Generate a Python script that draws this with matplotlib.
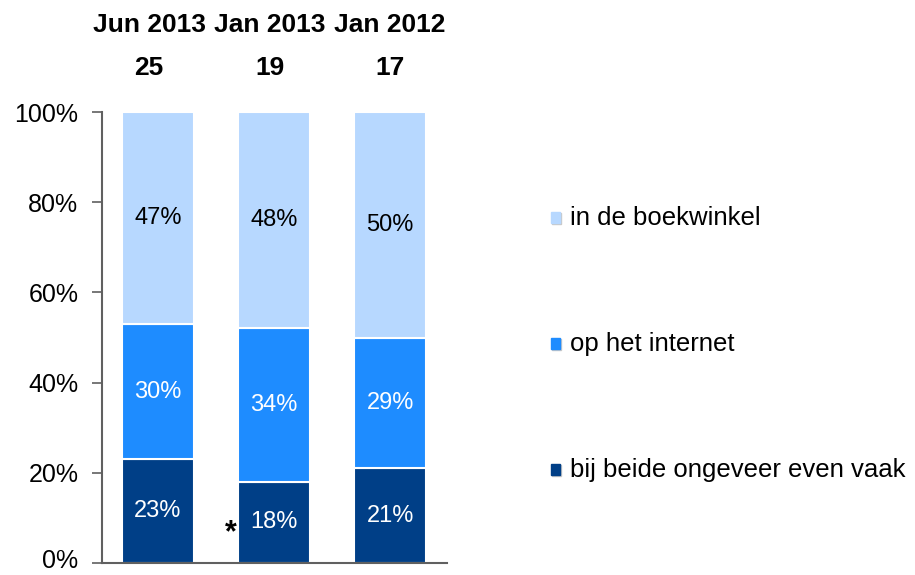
import numpy as np
import matplotlib.pyplot as plt
import matplotlib.transforms as mtransforms

plt.rcParams['font.family'] = ['Liberation Sans', 'DejaVu Sans']

# data
periods = ['Jun 2013', 'Jan 2013', 'Jan 2012']
respondents = ['25', '19', '17']
series = ['bij beide ongeveer even vaak', 'op het internet', 'in de boekwinkel']
both = [23, 18, 21]
internet = [30, 34, 29]
bookshop = [47, 48, 50]
colors = ['#003F87', '#1E8CFF', '#B7D8FF']
label_colors = ['white', 'white', 'black']

fig = plt.figure(figsize=(9.15, 5.75), dpi=100)
W, H = 915, 575
ax = fig.add_axes([102 / W, 1 - 563 / H, (447 - 102) / W, (563 - 112) / H])

x = np.arange(len(periods))
bottom = np.zeros(len(periods))
for vals, col, lc in zip([both, internet, bookshop], colors, label_colors):
    vals = np.array(vals, dtype=float)
    ax.bar(x, vals, 0.62, bottom=bottom, color=col, edgecolor='white', linewidth=1.5)
    for xi, b, v in zip(x, bottom, vals):
        ax.text(xi, b + v / 2, f'{int(v)}%', ha='center', va='center', color=lc, fontsize=17)
    bottom += vals

# asterisk next to Jan 2013 lower segment
ax.text(x[1] - 0.37, both[1] / 2 - 2.5, '*', ha='center', va='center', fontsize=22, fontweight='bold')

ax.set_xlim(-0.483, 2.49)
ax.set_ylim(0, 100)
ax.set_yticks([0, 20, 40, 60, 80, 100])
ax.set_yticklabels(['0%', '20%', '40%', '60%', '80%', '100%'], fontsize=18)
ax.set_xticks([])
ax.tick_params(axis='y', direction='out', length=7, width=1.2, color='#606060', pad=10)
# 0% label sits on the bottom edge; lift it a little so it is not clipped
zero_lbl = ax.get_yticklabels()[0]
zero_lbl.set_transform(zero_lbl.get_transform() +
                       mtransforms.ScaledTranslation(0, 4 / 100, fig.dpi_scale_trans))
for s in ['top', 'right']:
    ax.spines[s].set_visible(False)
for s in ['left', 'bottom']:
    ax.spines[s].set_color('#606060')
    ax.spines[s].set_linewidth(1.5)

# header: period and number of respondents (slightly left of the bar centres)
header_shift = [-9, -4, 0]
trans = mtransforms.blended_transform_factory(ax.transData, fig.transFigure)
for xi, p, n, dx in zip(x, periods, respondents, header_shift):
    t = trans + mtransforms.ScaledTranslation(dx / 100, 0, fig.dpi_scale_trans)
    ax.text(xi, 1 - 25 / H, p, transform=t, ha='center', va='center',
            fontsize=19, fontweight='bold')
    ax.text(xi, 1 - 68 / H, n, transform=t, ha='center', va='center',
            fontsize=19, fontweight='bold')

# legend on the right
legend_y = [470, 344, 218]
for name, col, yy in zip(series, colors, legend_y):
    fig.patches.append(plt.Rectangle(((551 + 1) / W, 1 - (yy + 5 + 1) / H), 9 / W, 11 / H,
                                     transform=fig.transFigure, color='#c8c8c8', zorder=1))
    fig.patches.append(plt.Rectangle((551 / W, 1 - (yy + 5) / H), 9 / W, 11 / H,
                                     transform=fig.transFigure, color=col, zorder=2))
    fig.text(570 / W, 1 - yy / H, name, ha='left', va='center', fontsize=18.5)

fig.savefig('out.png', dpi=100)
